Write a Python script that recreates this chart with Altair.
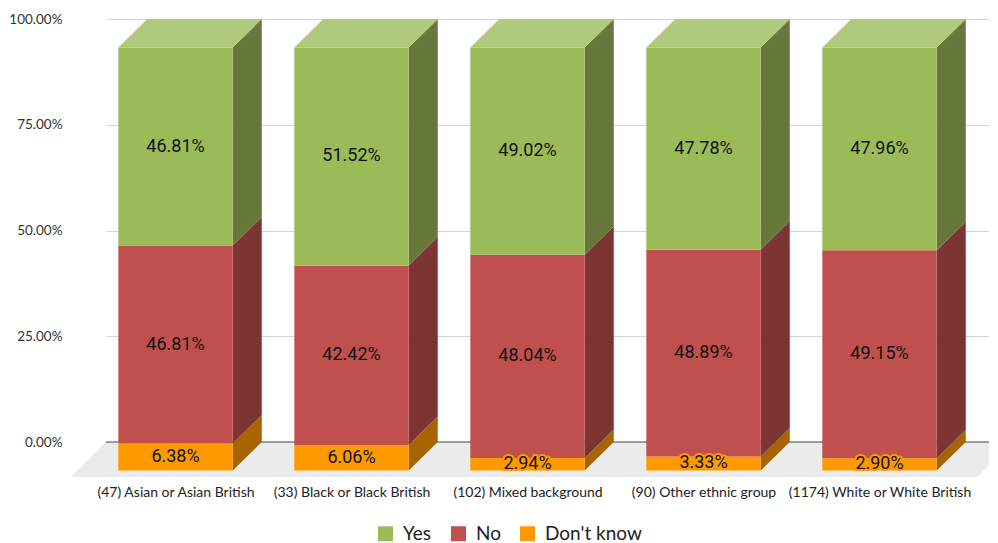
import json
import altair as alt
import pandas as pd

# ---------------- data ----------------
categories = [
    "(47) Asian or Asian British",
    "(33) Black or Black British",
    "(102) Mixed background",
    "(90) Other ethnic group",
    "(1174) White or White British",
]
legend_order = ["Yes", "No", "Don't know"]
yes_vals = [46.81, 51.52, 49.02, 47.78, 47.96]
no_vals = [46.81, 42.42, 48.04, 48.89, 49.15]
dk_vals = [6.38, 6.06, 2.94, 3.33, 2.90]
y_ticks = [0, 25, 50, 75, 100]

front_colors = {"Yes": "#9BBB59", "No": "#C0504D", "Don't know": "#FF9900"}
side_colors = {"Yes": "#66783A", "No": "#7E3432", "Don't know": "#A86400"}
top_color = "#AFC97F"
floor_color = "#EBEBEB"

# ---------------- 3D layout (style constants) ----------------
HALF = 0.325      # half width of a bar front (x units)
DX = 0.165        # depth shift in x units
DY = 6.74         # depth shift in y units
FLOOR_DY = 8.27
FLOOR_DX = 0.199
FLOOR_L = -0.594
FLOOR_R = 4.554
X_DOMAIN = [-0.395, 4.622]
Y_DOMAIN = [-FLOOR_DY, 100]
W, H = 883, 458

# ---------------- tables built from the arrays ----------------
seg_rows, side_rows, top_rows = [], [], []
sid = 0
for i, cat in enumerate(categories):
    base = 0.0
    for ans, vals in [("Don't know", dk_vals), ("No", no_vals), ("Yes", yes_vals)]:
        v = vals[i]
        lo, hi = base, base + v
        seg_rows.append(dict(cat=cat, i=i, answer=ans, value=v,
                             x=i - HALF, x2=i + HALF, y=lo - DY, y2=hi - DY,
                             ym=(lo + hi) / 2 - DY, label=f"{v:.2f}%",
                             front=front_colors[ans]))
        side_rows.append(dict(sid=sid, x=i + HALF, y=lo - DY, y2=hi - DY, fill=side_colors[ans]))
        side_rows.append(dict(sid=sid, x=i + HALF + DX, y=lo, y2=hi, fill=side_colors[ans]))
        sid += 1
        base = hi
    top_rows.append(dict(bar=i, y=base - DY, x=i - HALF, x2=i + HALF))
    top_rows.append(dict(bar=i, y=base, x=i - HALF + DX, x2=i + HALF + DX))

seg = pd.DataFrame(seg_rows)
side = pd.DataFrame(side_rows)
top = pd.DataFrame(top_rows)
floor = pd.DataFrame([
    dict(y=-FLOOR_DY, x=FLOOR_L, x2=FLOOR_R),
    dict(y=0, x=FLOOR_L + FLOOR_DX, x2=FLOOR_R + FLOOR_DX),
])

xs = alt.Scale(domain=X_DOMAIN, nice=False, zero=False)
ys = alt.Scale(domain=Y_DOMAIN, nice=False, zero=False)

y_axis = alt.Axis(values=y_ticks, labelExpr="format(datum.value, '.2f') + '%'",
                  grid=True, gridColor="#D4D4D4", gridWidth=1, domain=False,
                  ticks=False, tickSize=0, labelPadding=44, title=None,
                  labelFont="Lato", labelFontSize=13.5, labelColor="#333333")
x_axis = alt.Axis(values=list(range(len(categories))),
                  labelExpr=json.dumps(categories) + "[datum.value]",
                  grid=False, domain=False, ticks=False, tickSize=0,
                  labelPadding=8, title=None, labelOverlap=False, labelFlush=False,
                  labelBound=False, labelLimit=0, labelFont="Lato", labelFontSize=14,
                  labelColor="#222222")

floor_layer = alt.Chart(floor).mark_area(orient="horizontal", color=floor_color).encode(
    y=alt.Y("y:Q", scale=ys, axis=y_axis),
    x=alt.X("x:Q", scale=xs, axis=x_axis),
    x2="x2:Q",
)

zero_rule = alt.Chart(floor).mark_rule(color="#7F7F7F", strokeWidth=1).encode(
    y=alt.datum(0),
    x=alt.value(0),
    x2=alt.value(W),
)

side_layer = alt.Chart(side).mark_area().encode(
    x="x:Q", y="y:Q", y2="y2:Q",
    detail="sid:N",
    fill=alt.Fill("fill:N", scale=None),
)

front_layer = alt.Chart(seg).mark_rect().encode(
    x="x:Q", x2="x2:Q", y="y:Q", y2="y2:Q",
    color=alt.Color("answer:N",
                    scale=alt.Scale(domain=legend_order,
                                    range=[front_colors[a] for a in legend_order]),
                    legend=alt.Legend(title=None, orient="none", legendX=270, legendY=505,
                                      direction="horizontal", symbolType="square",
                                      symbolSize=225, symbolStrokeWidth=0,
                                      labelFont="Lato", labelFontSize=19,
                                      labelColor="#222222", labelOffset=8,
                                      columnPadding=17, padding=0)),
)

top_layer = alt.Chart(top).mark_area(orient="horizontal", color=top_color).encode(
    y="y:Q", x="x:Q", x2="x2:Q", detail="bar:N",
)

halo = alt.Chart(seg).mark_text(font="Roboto", fontSize=18, strokeWidth=4,
                                strokeJoin="round").encode(
    x="i:Q", y="ym:Q", text="label:N",
    stroke=alt.Stroke("front:N", scale=None),
    fill=alt.Fill("front:N", scale=None),
)
labels = alt.Chart(seg).mark_text(font="Roboto", fontSize=18, color="#111111").encode(
    x="i:Q", y="ym:Q", text="label:N",
)

chart = alt.layer(floor_layer, zero_rule, side_layer, front_layer, top_layer, halo, labels).properties(
    width=W, height=H,
    background="white",
    autosize=alt.AutoSizeParams(type="none"),
    padding={"left": 98, "top": 11, "right": 0, "bottom": 66},
).configure_view(stroke=None).configure_axis(domain=False)

chart.save("out.html", embed_options={"renderer": "svg", "actions": False})
